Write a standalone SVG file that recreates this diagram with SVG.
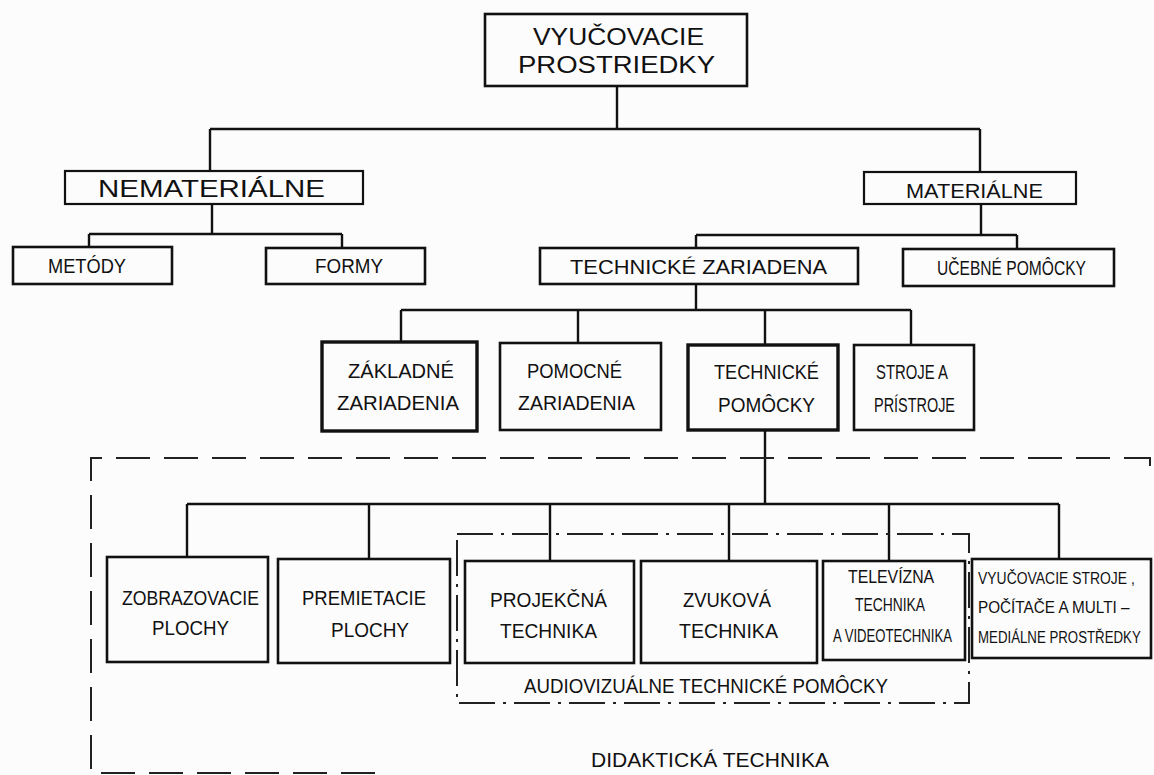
<svg xmlns="http://www.w3.org/2000/svg" width="1154" height="775" viewBox="0 0 1154 775">
<style>
.bg{fill:#fdfcfd}
.box{fill:none;stroke:#111;stroke-width:2.6}
.thick{stroke-width:3.4}
.thin{stroke-width:2.2}
.con{fill:none;stroke:#111;stroke-width:2.4}
.t{font-family:"Liberation Sans","DejaVu Sans",sans-serif;fill:#111;font-size:21px}
.big{font-size:24px}
.sm{font-size:18px}
.xs{font-size:17px}
.dash{fill:none;stroke:#222;stroke-width:2;stroke-dasharray:34 14}
.dashdot{fill:none;stroke:#222;stroke-width:2;stroke-dasharray:36 8 3 8}
</style>
<rect class="bg" x="0" y="0" width="1154" height="775"/>

<g id="connectors">
<path class="con" d="M617,86 V129 M210,129 H980 M210,129 V171 M980,129 V172"/>
<path class="con" d="M212,204 V234 M89,234 H342 M89,234 V247 M342,234 V248"/>
<path class="con" d="M981,204 V235 M696,235 H1017 M696,235 V248 M1017,235 V249"/>
<path class="con" d="M696,284 V310 M401,310 H911 M401,310 V342 M578,310 V343 M765,310 V345 M911,310 V345"/>
<path class="con" d="M765,430 V504 M187,504 H1059 M187,504 V557 M369,504 V559 M550,504 V561 M729,504 V561 M889,504 V561 M1059,504 V559"/>
</g>

<g id="didakticka-technika">
<path class="dash" d="M1150,466 V458 H91 V773 H380"/>
<text class="t" x="591" y="767" textLength="238" lengthAdjust="spacingAndGlyphs">DIDAKTICKÁ  TECHNIKA</text>
</g>

<g id="audiovizualne">
<rect class="dashdot" x="457" y="534" width="512" height="169"/>
<text class="t" x="524" y="693" textLength="364" lengthAdjust="spacingAndGlyphs">AUDIOVIZUÁLNE  TECHNICKÉ  POMÔCKY</text>
</g>

<g id="vyucovacie-prostriedky">
<rect class="box" x="485" y="14" width="262" height="72"/>
<text class="t big" x="533" y="45" textLength="171" lengthAdjust="spacingAndGlyphs">VYUČOVACIE</text>
<text class="t big" x="518" y="73" textLength="197" lengthAdjust="spacingAndGlyphs">PROSTRIEDKY</text>
</g>

<g id="nematerialne">
<rect class="box thin" x="65" y="171" width="298" height="33"/>
<text class="t big" x="98" y="197" textLength="227" lengthAdjust="spacingAndGlyphs">NEMATERIÁLNE</text>
</g>

<g id="materialne">
<rect class="box thin" x="864" y="172" width="212" height="32"/>
<text class="t" x="906" y="198" textLength="137" lengthAdjust="spacingAndGlyphs">MATERIÁLNE</text>
</g>

<g id="metody">
<rect class="box" x="13" y="247" width="159" height="37"/>
<text class="t" x="48" y="273" textLength="78" lengthAdjust="spacingAndGlyphs">METÓDY</text>
</g>

<g id="formy">
<rect class="box" x="266" y="248" width="159" height="36"/>
<text class="t" x="315" y="273" textLength="68" lengthAdjust="spacingAndGlyphs">FORMY</text>
</g>

<g id="technicke-zariadena">
<rect class="box" x="540" y="248" width="318" height="36"/>
<text class="t" x="570" y="274" textLength="257" lengthAdjust="spacingAndGlyphs">TECHNICKÉ  ZARIADENA</text>
</g>

<g id="ucebne-pomocky">
<rect class="box" x="903" y="249" width="211" height="37"/>
<text class="t" x="937" y="275" textLength="149" lengthAdjust="spacingAndGlyphs">UČEBNÉ  POMÔCKY</text>
</g>

<g id="zakladne-zariadenia">
<rect class="box thick" x="322" y="342" width="155" height="89"/>
<text class="t" x="348" y="378" textLength="106" lengthAdjust="spacingAndGlyphs">ZÁKLADNÉ</text>
<text class="t" x="337" y="410" textLength="122" lengthAdjust="spacingAndGlyphs">ZARIADENIA</text>
</g>

<g id="pomocne-zariadenia">
<rect class="box" x="500" y="343" width="161" height="87"/>
<text class="t" x="527" y="378" textLength="95" lengthAdjust="spacingAndGlyphs">POMOCNÉ</text>
<text class="t" x="518" y="410" textLength="117" lengthAdjust="spacingAndGlyphs">ZARIADENIA</text>
</g>

<g id="technicke-pomocky">
<rect class="box thick" x="688" y="345" width="150" height="85"/>
<text class="t" x="714" y="379" textLength="105" lengthAdjust="spacingAndGlyphs">TECHNICKÉ</text>
<text class="t" x="718" y="412" textLength="97" lengthAdjust="spacingAndGlyphs">POMÔCKY</text>
</g>

<g id="stroje-a-pristroje">
<rect class="box" x="854" y="345" width="120" height="85"/>
<text class="t" x="876" y="379" textLength="72" lengthAdjust="spacingAndGlyphs">STROJE A</text>
<text class="t" x="874" y="412" textLength="81" lengthAdjust="spacingAndGlyphs">PRÍSTROJE</text>
</g>

<g id="zobrazovacie-plochy">
<rect class="box" x="107" y="557" width="161" height="105"/>
<text class="t" x="122" y="605" textLength="137" lengthAdjust="spacingAndGlyphs">ZOBRAZOVACIE</text>
<text class="t" x="152" y="635" textLength="77" lengthAdjust="spacingAndGlyphs">PLOCHY</text>
</g>

<g id="premietacie-plochy">
<rect class="box" x="278" y="559" width="172" height="104"/>
<text class="t" x="302" y="605" textLength="124" lengthAdjust="spacingAndGlyphs">PREMIETACIE</text>
<text class="t" x="331" y="637" textLength="78" lengthAdjust="spacingAndGlyphs">PLOCHY</text>
</g>

<g id="projekcna-technika">
<rect class="box" x="465" y="561" width="169" height="102"/>
<text class="t" x="490" y="607" textLength="117" lengthAdjust="spacingAndGlyphs">PROJEKČNÁ</text>
<text class="t" x="500" y="638" textLength="97" lengthAdjust="spacingAndGlyphs">TECHNIKA</text>
</g>

<g id="zvukova-technika">
<rect class="box" x="641" y="561" width="176" height="102"/>
<text class="t" x="683" y="607" textLength="88" lengthAdjust="spacingAndGlyphs">ZVUKOVÁ</text>
<text class="t" x="679" y="638" textLength="99" lengthAdjust="spacingAndGlyphs">TECHNIKA</text>
</g>

<g id="televizna-technika">
<rect class="box" x="823" y="561" width="142" height="99"/>
<text class="t sm" transform="translate(848,583) scale(0.88,1)">TELEVÍZNA</text>
<text class="t sm" transform="translate(855,611) scale(0.77,1)">TECHNIKA</text>
<text class="t sm" transform="translate(833,642) scale(0.73,1)">A VIDEOTECHNIKA</text>
</g>

<g id="vyucovacie-stroje">
<rect class="box" x="972" y="559" width="179" height="99"/>
<text class="t xs" transform="translate(978,584) scale(0.82,1)">VYUČOVACIE STROJE ,</text>
<text class="t xs" transform="translate(978,613) scale(0.9,1)">POČÍTAČE A MULTI –</text>
<text class="t xs" transform="translate(978,643) scale(0.78,1)">MEDIÁLNE PROSTŘEDKY</text>
</g>
</svg>
